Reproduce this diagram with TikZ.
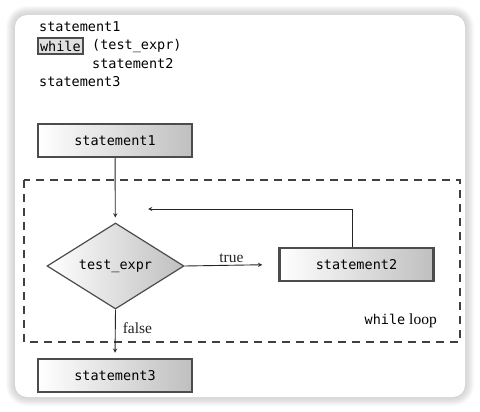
\documentclass[tikz,border=0pt]{standalone}
\usepackage{fontspec}
\setmainfont{Liberation Serif}
\setmonofont{DejaVu Sans Mono}
\usetikzlibrary{shapes.geometric}

\begin{document}
\begin{tikzpicture} [x=1pt, y=-1pt, >=stealth]
    \tikzstyle{every node} = [align=center, font=\fontsize{13.5}{16}\selectfont\ttfamily]
    \tikzstyle{code} = [anchor=west, inner sep=0pt]
    \tikzstyle{stmt} = [draw=black!70, line width=2.5pt, left color=white, right color=black!25,
        minimum width=154pt, minimum height=33pt, inner sep=0pt]
    \tikzstyle{cond} = [diamond, draw=black!70, line width=1.2pt, left color=white, right color=black!25,
        minimum width=137pt, minimum height=86pt, inner sep=0pt]
    \tikzstyle{flow} = [->, line width=0.9pt, black!85]
    \tikzstyle{lbl} = [font=\fontsize{15.5}{18}\selectfont\rmfamily, inner sep=2pt]

    \useasboundingbox (0,0) rectangle (480,412);
    % card with a soft shadow
    \foreach \i in {1,...,9}
        \fill[black, opacity=0.018, rounded corners=12pt+\i pt]
            (15-\i,15-\i) rectangle (465+\i,397+\i);
    \fill[white, rounded corners=12pt] (15,15) rectangle (465,397);

    % the code
    \node[code] (c1) at (39,27) {statement1};
    \node[code, draw=black!70, line width=2pt, fill=black!12, inner sep=2.5pt] (kw) at (36.5,46) {while};
    \node[code] (c2) at (92,46) {(test\_expr)};
    \node[code] (c3) at (92,64) {statement2};
    \node[code] (c4) at (39,82) {statement3};

    % the flowchart
    \node[stmt] (s1) at (115,140.5) {statement1};
    \node[cond] (test) at (115.5,266) {test\_expr};
    \node[stmt] (s2) at (356.5,264.5) {statement2};
    \node[stmt] (s3) at (115,375.5) {statement3};
    \coordinate (back) at (148,209);

    \draw[dashed, dash pattern=on 8pt off 6pt, line width=2pt, black!75] (24,180) rectangle (460,342);
    \node[anchor=east, inner sep=0pt] (loop) at (437,321) {while\rmfamily\fontsize{15.5}{18}\selectfont{} loop};

    \draw[flow, shorten >=5pt] (s1) -- (test);
    \draw[flow, shorten >=16pt] (test.east) -- node[lbl, above] {true} (s2.west);
    \draw[flow] (s2.north -| 352,0) -- (352,209) -- (back);
    \draw[flow, shorten >=5pt] (test.south) -- node[lbl, right, pos=0.38, xshift=5pt] {false} (s3.north);
\end{tikzpicture}
\end{document}
